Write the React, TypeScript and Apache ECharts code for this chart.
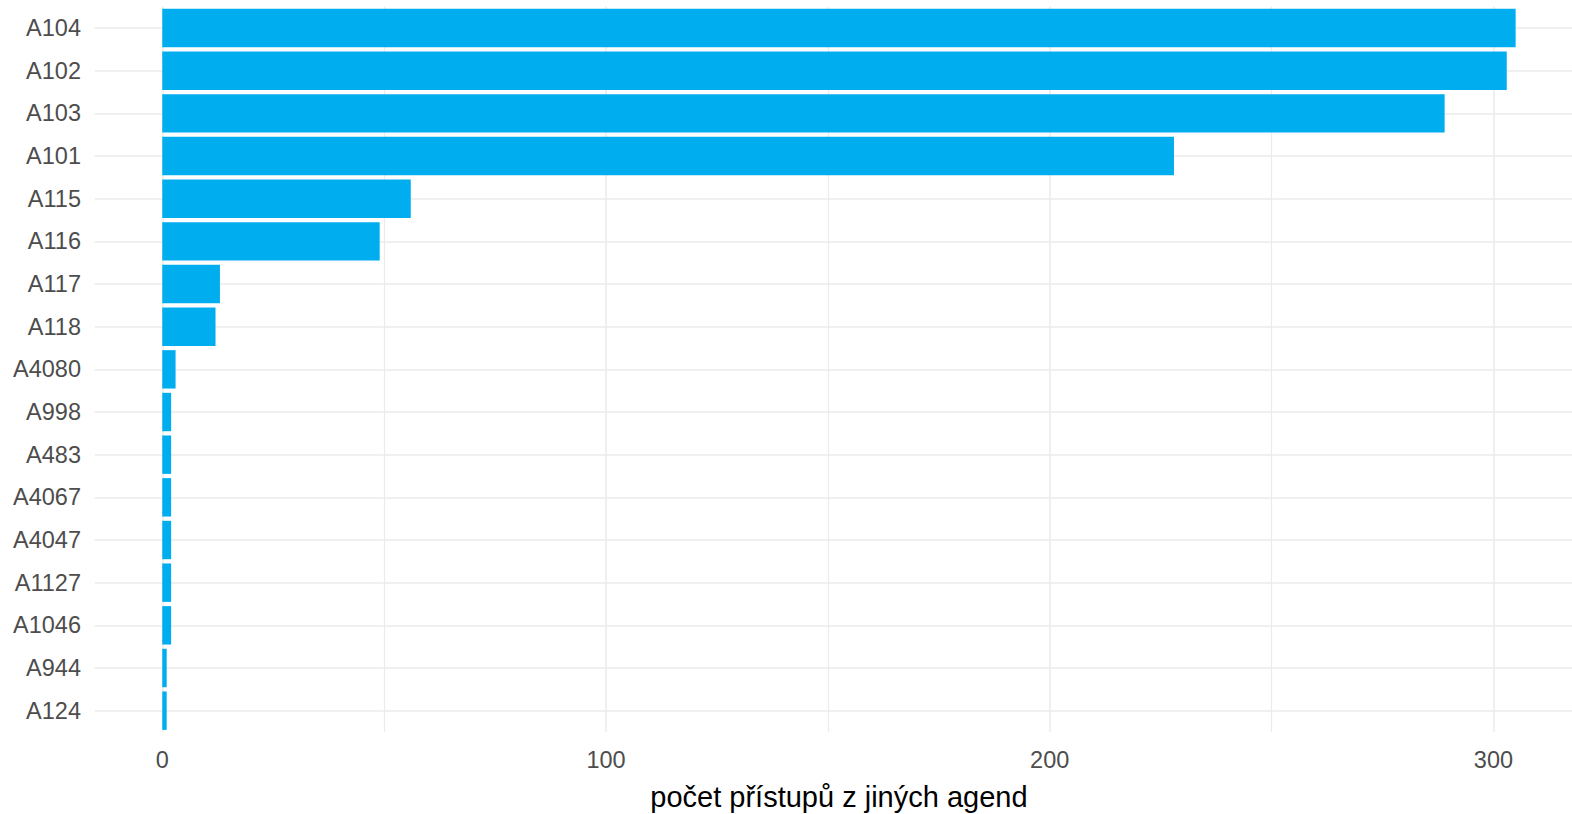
import React, { useEffect, useRef } from "react";
import * as echarts from "echarts";

const categories = ["A104", "A102", "A103", "A101", "A115", "A116", "A117", "A118", "A4080", "A998", "A483", "A4067", "A4047", "A1127", "A1046", "A944", "A124"];
const values = [305, 303, 289, 228, 56, 49, 13, 12, 3, 2, 2, 2, 2, 2, 2, 1, 1];
const majorTicks = [0, 100, 200, 300];
const minorTicks = [50, 150, 250];
const axisTitle = "počet přístupů z jiných agend";

export default function App() {
  const ref = useRef<HTMLDivElement>(null);
  useEffect(() => {
    if (!ref.current) return;
    const chart = echarts.init(ref.current, undefined, { renderer: "svg" });
    const font = "'Liberation Sans', Arial, sans-serif";
    chart.setOption({
      animation: false,
      backgroundColor: "#ffffff",
      grid: {
        left: 94.6,
        width: 1488.7,
        top: 6.7,
        bottom: 82,
        containLabel: false,
        outerBoundsMode: "none",
      },
      xAxis: {
        type: "value",
        min: -15.25,
        max: 320.25,
        axisLine: { show: false },
        axisTick: { show: false },
        splitLine: { show: false },
        axisLabel: {
          customValues: majorTicks,
          color: "#4d4d4d",
          fontSize: 23.5,
          fontFamily: font,
          margin: 16,
        },
        name: axisTitle,
        nameLocation: "middle",
        nameGap: 50,
        nameTextStyle: { color: "#000000", fontSize: 29, fontFamily: font },
      },
      yAxis: {
        type: "category",
        inverse: true,
        data: categories,
        axisLine: { show: false },
        axisTick: { show: false },
        splitLine: { show: false },
        axisLabel: { color: "#4d4d4d", fontSize: 23.5, fontFamily: font, margin: 13.6 },
      },
      series: [
        {
          type: "line",
          data: [],
          z: 1,
          silent: true,
          markLine: {
            silent: true,
            symbol: "none",
            z: 1,
            label: { show: false },
            emphasis: { disabled: true },
            data: [
              ...majorTicks.map((v) => ({ xAxis: v, lineStyle: { color: "#ebebeb", width: 1.6, type: "solid" } })),
              ...minorTicks.map((v) => ({ xAxis: v, lineStyle: { color: "#ebebeb", width: 1.2, type: "solid" } })),
              ...categories.map((c) => ({ yAxis: c, lineStyle: { color: "#ebebeb", width: 1.6, type: "solid" } })),
            ],
          },
        },
        {
          type: "bar",
          data: values,
          z: 10,
          barCategoryGap: "10%",
          itemStyle: { color: "#00aeef" },
          silent: true,
        },
      ],
    });
    return () => chart.dispose();
  }, []);
  return <div ref={ref} style={{ position: "absolute", left: 0, top: 0, width: 1572, height: 814 }} />;
}
